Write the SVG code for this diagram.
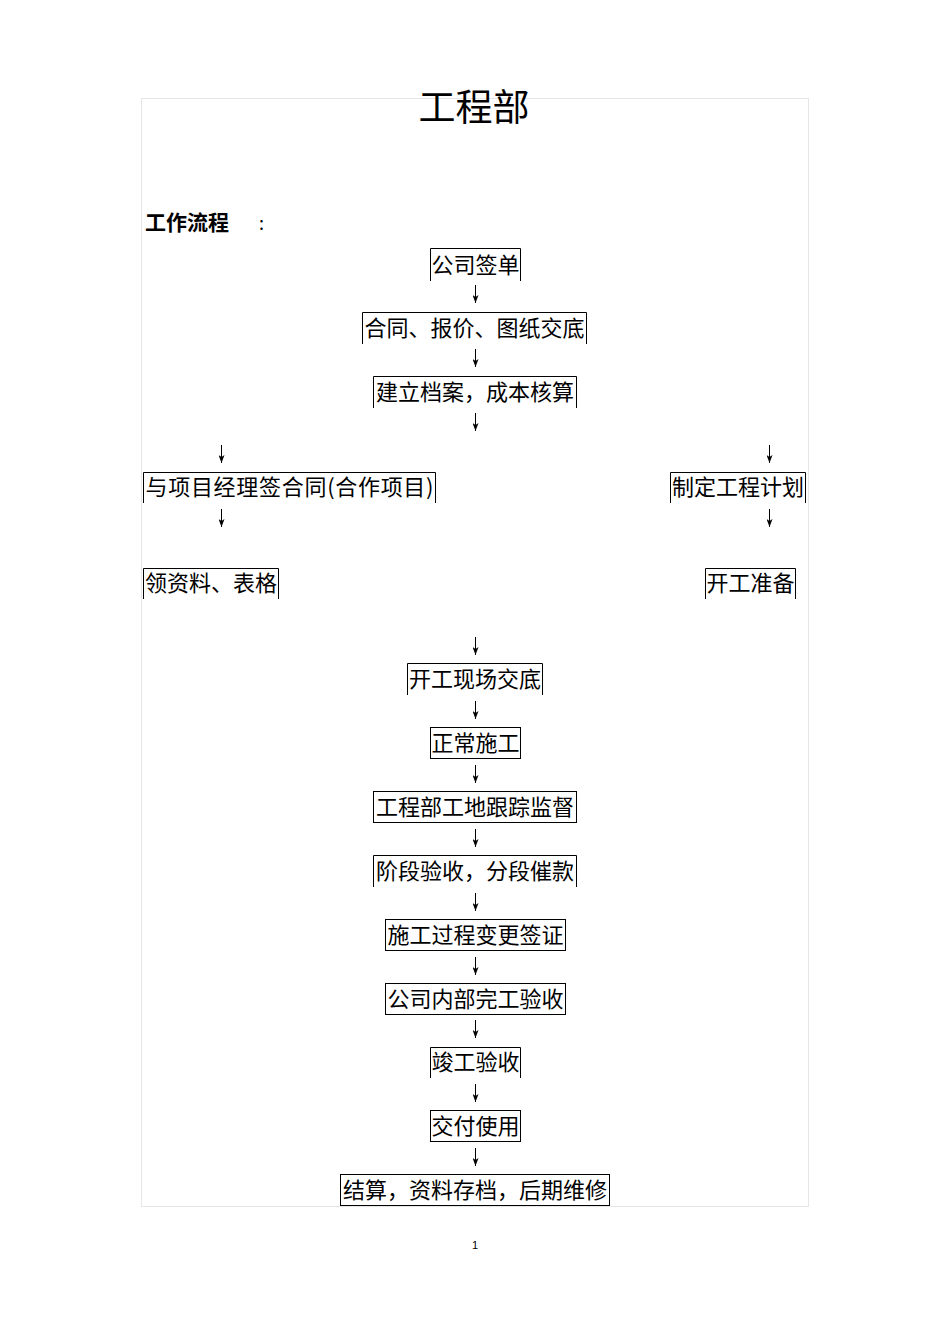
<svg xmlns="http://www.w3.org/2000/svg" width="950" height="1344" viewBox="0 0 950 1344">
<style>
.t{font-family:"Noto Sans CJK SC","Noto Sans",sans-serif;font-size:22px;fill:#000;text-anchor:middle}
.b{fill:none;stroke:#000;stroke-width:1}
.c{stroke:#000;stroke-width:1;fill:none}
</style>
<defs>
<marker id="ah" markerWidth="8" markerHeight="6" refX="8" refY="3" orient="auto" markerUnits="userSpaceOnUse">
<path d="M0,0 L8,3 L0,6 L2,3 Z" fill="#000"/>
</marker>
</defs>
<rect width="950" height="1344" fill="#fff"/>
<rect x="141.5" y="98.5" width="667" height="1108" fill="none" stroke="#e6e6e6" stroke-width="1"/>
<text x="474" y="121" font-family="'Noto Sans CJK SC',sans-serif" font-size="37" text-anchor="middle">工程部</text>
<text x="145" y="230" font-family="'Noto Sans CJK SC',sans-serif" font-size="21" font-weight="bold">工作流程</text>
<text x="259" y="230" font-family="'Noto Sans CJK SC',sans-serif" font-size="18">:</text>

<g id="n1"><path class="b" d="M430.5,281 V248.5 H520.5 V281"/><text class="t" x="475.5" y="273">公司签单</text></g>
<g id="n2"><path class="b" d="M362.5,344 V312.5 H586.5 V344"/><text class="t" x="474.5" y="336">合同、报价、图纸交底</text></g>
<g id="n3"><path class="b" d="M373.5,408 V376.5 H576.5 V408"/><text class="t" x="475" y="400">建立档案，成本核算</text></g>
<g id="n4"><path class="b" d="M143.5,503 V472.5 H435.5 V503"/><text class="t" x="289.5" y="495" textLength="288" lengthAdjust="spacing">与项目经理签合同(合作项目)</text></g>
<g id="n5"><path class="b" d="M670.5,503 V472.5 H805.5 V503"/><text class="t" x="738" y="495">制定工程计划</text></g>
<g id="n6"><path class="b" d="M143.5,599 V568.5 H278.5 V599"/><text class="t" x="211" y="591">领资料、表格</text></g>
<g id="n7"><path class="b" d="M705.5,599 V568.5 H795.5 V599"/><text class="t" x="750.5" y="591">开工准备</text></g>
<g id="n8"><path class="b" d="M407.5,695 V663.5 H542.5 V695"/><text class="t" x="475" y="687">开工现场交底</text></g>
<g id="n9"><rect class="b" x="430.5" y="727.5" width="90" height="31"/><text class="t" x="475.5" y="751">正常施工</text></g>
<g id="n10"><rect class="b" x="373.5" y="791.5" width="203" height="31"/><text class="t" x="475" y="815">工程部工地跟踪监督</text></g>
<g id="n11"><path class="b" d="M373.5,887 V855.5 H576.5 V887"/><text class="t" x="475" y="879">阶段验收，分段催款</text></g>
<g id="n12"><rect class="b" x="385.5" y="919.5" width="180" height="31"/><text class="t" x="475.5" y="943">施工过程变更签证</text></g>
<g id="n13"><rect class="b" x="385.5" y="983.5" width="180" height="31"/><text class="t" x="475.5" y="1007">公司内部完工验收</text></g>
<g id="n14"><path class="b" d="M430.5,1078 V1047.5 H520.5 V1078"/><text class="t" x="475.5" y="1070">竣工验收</text></g>
<g id="n15"><rect class="b" x="430.5" y="1110.5" width="90" height="31"/><text class="t" x="475.5" y="1134">交付使用</text></g>
<g id="n16"><rect class="b" x="340.5" y="1174.5" width="269" height="31"/><text class="t" x="475" y="1198">结算，资料存档，后期维修</text></g>

<g id="connectors">
<line class="c" x1="475.5" y1="285" x2="475.5" y2="303" marker-end="url(#ah)"/>
<line class="c" x1="475.5" y1="349" x2="475.5" y2="367" marker-end="url(#ah)"/>
<line class="c" x1="475.5" y1="413" x2="475.5" y2="431" marker-end="url(#ah)"/>
<line class="c" x1="221.5" y1="445" x2="221.5" y2="463" marker-end="url(#ah)"/>
<line class="c" x1="769.5" y1="445" x2="769.5" y2="463" marker-end="url(#ah)"/>
<line class="c" x1="221.5" y1="509" x2="221.5" y2="527" marker-end="url(#ah)"/>
<line class="c" x1="769.5" y1="509" x2="769.5" y2="527" marker-end="url(#ah)"/>
<line class="c" x1="475.5" y1="637" x2="475.5" y2="655" marker-end="url(#ah)"/>
<line class="c" x1="475.5" y1="701" x2="475.5" y2="719" marker-end="url(#ah)"/>
<line class="c" x1="475.5" y1="765" x2="475.5" y2="783" marker-end="url(#ah)"/>
<line class="c" x1="475.5" y1="829" x2="475.5" y2="847" marker-end="url(#ah)"/>
<line class="c" x1="475.5" y1="893" x2="475.5" y2="911" marker-end="url(#ah)"/>
<line class="c" x1="475.5" y1="957" x2="475.5" y2="975" marker-end="url(#ah)"/>
<line class="c" x1="475.5" y1="1020" x2="475.5" y2="1038" marker-end="url(#ah)"/>
<line class="c" x1="475.5" y1="1084" x2="475.5" y2="1102" marker-end="url(#ah)"/>
<line class="c" x1="475.5" y1="1148" x2="475.5" y2="1166" marker-end="url(#ah)"/>
</g>
<text x="475" y="1249" font-family="'Liberation Sans',sans-serif" font-size="11" text-anchor="middle">1</text>
</svg>
